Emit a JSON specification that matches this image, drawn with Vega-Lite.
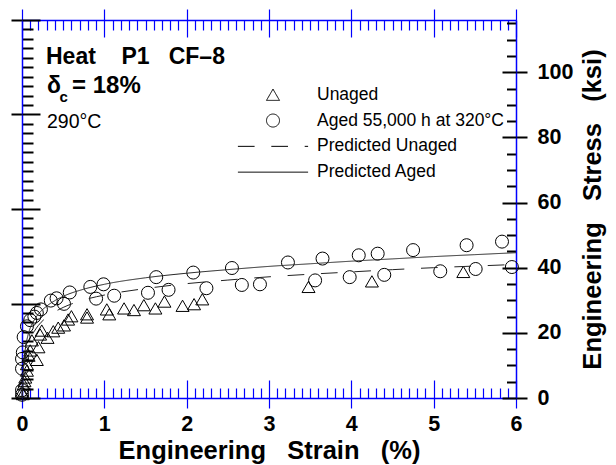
{
  "$schema": "https://vega.github.io/schema/vega-lite/v6.json",
  "width": 494,
  "height": 378,
  "autosize": "none",
  "padding": {"left": 22, "top": 20, "right": 100, "bottom": 67},
  "background": "white",
  "config": {
    "view": {"stroke": null},
    "axis": {"grid": false, "labelFont": "Liberation Sans", "titleFont": "Liberation Sans", "labelColor": "black", "titleColor": "black"},
    "text": {"font": "Liberation Sans", "color": "black"}
  },
  "resolve": {"axis": {"x": "independent", "y": "independent"}},
  "layer": [
    {
      "data": {"values": [
        {"strain": 0.0, "stress": 2.0, "series": "Unaged"},
        {"strain": 0.01, "stress": 1.2, "series": "Unaged"},
        {"strain": 0.02, "stress": 4.2, "series": "Unaged"},
        {"strain": 0.03, "stress": 5.2, "series": "Unaged"},
        {"strain": 0.04, "stress": 6.3, "series": "Unaged"},
        {"strain": 0.06, "stress": 8.4, "series": "Unaged"},
        {"strain": 0.06, "stress": 10.4, "series": "Unaged"},
        {"strain": 0.08, "stress": 13.0, "series": "Unaged"},
        {"strain": 0.10, "stress": 14.6, "series": "Unaged"},
        {"strain": 0.12, "stress": 17.7, "series": "Unaged"},
        {"strain": 0.18, "stress": 11.7, "series": "Unaged"},
        {"strain": 0.20, "stress": 15.6, "series": "Unaged"},
        {"strain": 0.22, "stress": 19.5, "series": "Unaged"},
        {"strain": 0.24, "stress": 20.7, "series": "Unaged"},
        {"strain": 0.31, "stress": 18.5, "series": "Unaged"},
        {"strain": 0.38, "stress": 20.5, "series": "Unaged"},
        {"strain": 0.44, "stress": 21.6, "series": "Unaged"},
        {"strain": 0.51, "stress": 22.3, "series": "Unaged"},
        {"strain": 0.56, "stress": 24.1, "series": "Unaged"},
        {"strain": 0.60, "stress": 25.1, "series": "Unaged"},
        {"strain": 0.79, "stress": 24.7, "series": "Unaged"},
        {"strain": 0.79, "stress": 25.7, "series": "Unaged"},
        {"strain": 1.03, "stress": 27.2, "series": "Unaged"},
        {"strain": 1.06, "stress": 25.7, "series": "Unaged"},
        {"strain": 1.24, "stress": 27.5, "series": "Unaged"},
        {"strain": 1.36, "stress": 27.0, "series": "Unaged"},
        {"strain": 1.48, "stress": 28.5, "series": "Unaged"},
        {"strain": 1.62, "stress": 27.5, "series": "Unaged"},
        {"strain": 1.73, "stress": 29.6, "series": "Unaged"},
        {"strain": 1.95, "stress": 28.3, "series": "Unaged"},
        {"strain": 2.09, "stress": 28.8, "series": "Unaged"},
        {"strain": 2.19, "stress": 30.3, "series": "Unaged"},
        {"strain": 3.48, "stress": 34.1, "series": "Unaged"},
        {"strain": 4.25, "stress": 35.8, "series": "Unaged"},
        {"strain": 5.36, "stress": 38.7, "series": "Unaged"},
        {"strain": 0.0, "stress": 1.0, "series": "Aged 55,000 h at 320°C"},
        {"strain": 0.0, "stress": 2.4, "series": "Aged 55,000 h at 320°C"},
        {"strain": 0.0, "stress": 9.0, "series": "Aged 55,000 h at 320°C"},
        {"strain": 0.0, "stress": 12.0, "series": "Aged 55,000 h at 320°C"},
        {"strain": 0.01, "stress": 14.0, "series": "Aged 55,000 h at 320°C"},
        {"strain": 0.02, "stress": 18.7, "series": "Aged 55,000 h at 320°C"},
        {"strain": 0.06, "stress": 22.0, "series": "Aged 55,000 h at 320°C"},
        {"strain": 0.10, "stress": 23.9, "series": "Aged 55,000 h at 320°C"},
        {"strain": 0.15, "stress": 25.0, "series": "Aged 55,000 h at 320°C"},
        {"strain": 0.18, "stress": 26.1, "series": "Aged 55,000 h at 320°C"},
        {"strain": 0.23, "stress": 27.2, "series": "Aged 55,000 h at 320°C"},
        {"strain": 0.35, "stress": 29.9, "series": "Aged 55,000 h at 320°C"},
        {"strain": 0.42, "stress": 30.6, "series": "Aged 55,000 h at 320°C"},
        {"strain": 0.51, "stress": 28.9, "series": "Aged 55,000 h at 320°C"},
        {"strain": 0.58, "stress": 32.4, "series": "Aged 55,000 h at 320°C"},
        {"strain": 0.83, "stress": 34.1, "series": "Aged 55,000 h at 320°C"},
        {"strain": 0.90, "stress": 30.5, "series": "Aged 55,000 h at 320°C"},
        {"strain": 0.99, "stress": 34.9, "series": "Aged 55,000 h at 320°C"},
        {"strain": 1.12, "stress": 31.4, "series": "Aged 55,000 h at 320°C"},
        {"strain": 1.53, "stress": 32.3, "series": "Aged 55,000 h at 320°C"},
        {"strain": 1.63, "stress": 37.1, "series": "Aged 55,000 h at 320°C"},
        {"strain": 1.78, "stress": 33.2, "series": "Aged 55,000 h at 320°C"},
        {"strain": 2.08, "stress": 38.5, "series": "Aged 55,000 h at 320°C"},
        {"strain": 2.24, "stress": 33.7, "series": "Aged 55,000 h at 320°C"},
        {"strain": 2.55, "stress": 39.9, "series": "Aged 55,000 h at 320°C"},
        {"strain": 2.67, "stress": 34.7, "series": "Aged 55,000 h at 320°C"},
        {"strain": 2.89, "stress": 34.9, "series": "Aged 55,000 h at 320°C"},
        {"strain": 3.23, "stress": 41.6, "series": "Aged 55,000 h at 320°C"},
        {"strain": 3.56, "stress": 36.1, "series": "Aged 55,000 h at 320°C"},
        {"strain": 3.65, "stress": 42.8, "series": "Aged 55,000 h at 320°C"},
        {"strain": 3.98, "stress": 37.1, "series": "Aged 55,000 h at 320°C"},
        {"strain": 4.09, "stress": 43.8, "series": "Aged 55,000 h at 320°C"},
        {"strain": 4.32, "stress": 44.3, "series": "Aged 55,000 h at 320°C"},
        {"strain": 4.40, "stress": 37.8, "series": "Aged 55,000 h at 320°C"},
        {"strain": 4.75, "stress": 45.4, "series": "Aged 55,000 h at 320°C"},
        {"strain": 5.08, "stress": 38.9, "series": "Aged 55,000 h at 320°C"},
        {"strain": 5.40, "stress": 46.9, "series": "Aged 55,000 h at 320°C"},
        {"strain": 5.51, "stress": 39.6, "series": "Aged 55,000 h at 320°C"},
        {"strain": 5.83, "stress": 48.0, "series": "Aged 55,000 h at 320°C"},
        {"strain": 5.95, "stress": 40.2, "series": "Aged 55,000 h at 320°C"}
      ]},
      "mark": {"type": "point", "filled": false, "size": 169, "stroke": "black", "strokeWidth": 1, "opacity": 1},
      "encoding": {
        "x": {
          "field": "strain", "type": "quantitative",
          "scale": {"domain": [0, 6], "nice": false, "zero": false},
          "axis": {
            "orient": "bottom",
            "values": [0,0.1,0.2,0.3,0.4,0.5,0.6,0.7,0.8,0.9,1,1.1,1.2,1.3,1.4,1.5,1.6,1.7,1.8,1.9,2,2.1,2.2,2.3,2.4,2.5,2.6,2.7,2.8,2.9,3,3.1,3.2,3.3,3.4,3.5,3.6,3.7,3.8,3.9,4,4.1,4.2,4.3,4.4,4.5,4.6,4.7,4.8,4.9,5,5.1,5.2,5.3,5.4,5.5,5.6,5.7,5.8,5.9,6],
            "domainColor": "#0000ff", "domainWidth": 1.5,
            "tickColor": "#0000ff", "tickWidth": 1.2,
            "tickSize": {"condition": {"test": "abs(datum.value-round(datum.value))<0.001", "value": 10}, "value": -10},
            "labelExpr": "abs(datum.value-round(datum.value))<0.001 ? ''+round(datum.value) : ''",
            "labelFontSize": 21.5, "labelFontWeight": "bold", "labelPadding": 5,
            "labelFlush": false, "labelOverlap": false, "labelBound": false,
            "title": "Engineering\u00a0\u00a0\u00a0Strain\u00a0\u00a0\u00a0(%)",
            "titleFontSize": 25.5, "titleFontWeight": "bold", "titlePadding": 4
          }
        },
        "y": {
          "field": "stress", "type": "quantitative",
          "scale": {"domain": [0, 116.0302], "nice": false, "zero": false},
          "axis": {
            "orient": "right",
            "values": [0,5,10,15,20,25,30,35,40,45,50,55,60,65,70,75,80,85,90,95,100,105,110,115],
            "domainColor": "#0000ff", "domainWidth": 1.5,
            "tickColor": "black", "tickWidth": 2,
            "tickSize": {"condition": {"test": "datum.value % 20 === 0", "value": 11}, "value": -9.5},
            "labelExpr": "datum.value % 20 === 0 ? ''+datum.value : ''",
            "labelFontSize": 21.5, "labelFontWeight": "bold", "labelPadding": 10,
            "labelFlush": false, "labelOverlap": false, "labelBound": false, "labelAlign": "left", "labelBaseline": "middle",
            "title": "Engineering\u00a0\u00a0\u00a0Stress\u00a0\u00a0\u00a0(ksi)",
            "titleFontSize": 25.5, "titleFontWeight": "bold", "titlePadding": 8, "titleAngle": 270, "titleBaseline": "top"
          }
        },
        "shape": {
          "field": "series", "type": "nominal",
          "scale": {
            "domain": ["Unaged", "Aged 55,000 h at 320°C", "Predicted Unaged", "Predicted Aged"],
            "range": ["triangle-up", "circle", "M-5.4,0H5.4", "M-5.4,0H5.4"]
          },
          "legend": {
            "orient": "none", "legendX": 242.25, "legendY": 66, "title": null, "padding": 0,
            "symbolSize": 169, "symbolStrokeColor": "black", "symbolStrokeWidth": 1, "symbolFillColor": "transparent",
            "labelFont": "Liberation Sans", "labelFontSize": 17.5, "labelColor": "black", "labelOffset": 35.25, "labelLimit": 400,
            "rowPadding": 6.8
          }
        }
      }
    },
    {
      "data": {"values": [
        {"strain": 0, "stress": 0, "series": "Predicted Unaged"},
        {"strain": 0.01, "stress": 4, "series": "Predicted Unaged"},
        {"strain": 0.02, "stress": 8, "series": "Predicted Unaged"},
        {"strain": 0.04, "stress": 12, "series": "Predicted Unaged"},
        {"strain": 0.07, "stress": 15.5, "series": "Predicted Unaged"},
        {"strain": 0.1, "stress": 18, "series": "Predicted Unaged"},
        {"strain": 0.15, "stress": 20.5, "series": "Predicted Unaged"},
        {"strain": 0.2, "stress": 22.3, "series": "Predicted Unaged"},
        {"strain": 0.3, "stress": 24.8, "series": "Predicted Unaged"},
        {"strain": 0.4, "stress": 26.5, "series": "Predicted Unaged"},
        {"strain": 0.5, "stress": 27.8, "series": "Predicted Unaged"},
        {"strain": 0.75, "stress": 30.1, "series": "Predicted Unaged"},
        {"strain": 1, "stress": 31.6, "series": "Predicted Unaged"},
        {"strain": 1.5, "stress": 33.6, "series": "Predicted Unaged"},
        {"strain": 2, "stress": 35.1, "series": "Predicted Unaged"},
        {"strain": 2.5, "stress": 36.2, "series": "Predicted Unaged"},
        {"strain": 3, "stress": 37.2, "series": "Predicted Unaged"},
        {"strain": 3.5, "stress": 38, "series": "Predicted Unaged"},
        {"strain": 4, "stress": 38.7, "series": "Predicted Unaged"},
        {"strain": 4.5, "stress": 39.4, "series": "Predicted Unaged"},
        {"strain": 5, "stress": 40, "series": "Predicted Unaged"},
        {"strain": 5.5, "stress": 40.5, "series": "Predicted Unaged"},
        {"strain": 6, "stress": 41, "series": "Predicted Unaged"},
        {"strain": 0, "stress": 0, "series": "Predicted Aged"},
        {"strain": 0.01, "stress": 5, "series": "Predicted Aged"},
        {"strain": 0.02, "stress": 10, "series": "Predicted Aged"},
        {"strain": 0.04, "stress": 15, "series": "Predicted Aged"},
        {"strain": 0.07, "stress": 19, "series": "Predicted Aged"},
        {"strain": 0.1, "stress": 21.5, "series": "Predicted Aged"},
        {"strain": 0.15, "stress": 24, "series": "Predicted Aged"},
        {"strain": 0.2, "stress": 25.8, "series": "Predicted Aged"},
        {"strain": 0.3, "stress": 28.2, "series": "Predicted Aged"},
        {"strain": 0.4, "stress": 29.9, "series": "Predicted Aged"},
        {"strain": 0.5, "stress": 31.2, "series": "Predicted Aged"},
        {"strain": 0.75, "stress": 33.4, "series": "Predicted Aged"},
        {"strain": 1, "stress": 34.9, "series": "Predicted Aged"},
        {"strain": 1.5, "stress": 36.9, "series": "Predicted Aged"},
        {"strain": 2, "stress": 38.3, "series": "Predicted Aged"},
        {"strain": 2.5, "stress": 39.4, "series": "Predicted Aged"},
        {"strain": 3, "stress": 40.4, "series": "Predicted Aged"},
        {"strain": 3.5, "stress": 41.2, "series": "Predicted Aged"},
        {"strain": 4, "stress": 42, "series": "Predicted Aged"},
        {"strain": 4.5, "stress": 42.7, "series": "Predicted Aged"},
        {"strain": 5, "stress": 43.4, "series": "Predicted Aged"},
        {"strain": 5.5, "stress": 44, "series": "Predicted Aged"},
        {"strain": 6, "stress": 44.6, "series": "Predicted Aged"}
      ]},
      "mark": {"type": "line", "color": "#222222", "strokeWidth": 1, "interpolate": "monotone"},
      "encoding": {
        "x": {
          "field": "strain", "type": "quantitative",
          "scale": {"domain": [0, 6], "nice": false, "zero": false},
          "axis": {
            "orient": "top",
            "values": [0,0.1,0.2,0.3,0.4,0.5,0.6,0.7,0.8,0.9,1,1.1,1.2,1.3,1.4,1.5,1.6,1.7,1.8,1.9,2,2.1,2.2,2.3,2.4,2.5,2.6,2.7,2.8,2.9,3,3.1,3.2,3.3,3.4,3.5,3.6,3.7,3.8,3.9,4,4.1,4.2,4.3,4.4,4.5,4.6,4.7,4.8,4.9,5,5.1,5.2,5.3,5.4,5.5,5.6,5.7,5.8,5.9,6],
            "domainColor": "#0000ff", "domainWidth": 1.5,
            "tickColor": "#0000ff", "tickWidth": 1.2,
            "tickSize": {"condition": {"test": "abs(datum.value-round(datum.value))<0.001", "value": 11}, "value": -10},
            "labels": false, "title": null
          }
        },
        "y": {
          "field": "stress", "type": "quantitative",
          "scale": {"domain": [0, 116.0302], "nice": false, "zero": false},
          "axis": {
            "orient": "left",
            "values": [0,2.9008,5.8015,8.7023,11.603,14.5038,17.4045,20.3053,23.206,26.1068,29.0075,31.9083,34.8091,37.7098,40.6106,43.5113,46.4121,49.3128,52.2136,55.1143,58.0151,60.9159,63.8166,66.7174,69.6181,72.5189,75.4196,78.3204,81.2211,84.1219,87.0227,89.9234,92.8242,95.7249,98.6257,101.5264,104.4272,107.3279,110.2287,113.1294,116.0302],
            "domainColor": "#0000ff", "domainWidth": 1.5,
            "tickColor": "black", "tickWidth": 2,
            "tickSize": {"condition": {"test": "abs(datum.value*6.894757/200-round(datum.value*6.894757/200))<0.01", "value": 11}, "value": -11},
            "labels": false, "title": null
          }
        },
        "strokeDash": {
          "field": "series", "type": "nominal",
          "scale": {
            "domain": ["Unaged", "Aged 55,000 h at 320°C", "Predicted Unaged", "Predicted Aged"],
            "range": [[1, 0], [1, 0], [16.7, 16.7], [1, 0]]
          },
          "legend": {
            "orient": "none", "legendX": 242.25, "legendY": 66, "title": null, "padding": 0,
            "symbolSize": 169, "symbolStrokeColor": "black", "symbolStrokeWidth": 1, "symbolFillColor": "transparent",
            "labelFont": "Liberation Sans", "labelFontSize": 17.5, "labelColor": "black", "labelOffset": 35.25, "labelLimit": 400,
            "rowPadding": 6.8
          }
        }
      }
    },
    {
      "data": {"values": [{"label": "Heat\u00a0\u00a0\u00a0\u00a0P1\u00a0\u00a0\u00a0CF–8"}]},
      "mark": {"type": "text", "fontSize": 23, "fontWeight": "bold", "align": "left", "baseline": "alphabetic"},
      "encoding": {
        "text": {"field": "label"},
        "x": {
          "datum": 0.2915, "type": "quantitative",
          "axis": {"orient": "bottom", "values": [0, 1, 2, 3, 4, 5, 6], "domain": false, "labels": false, "title": null, "tickColor": "#0000ff", "tickWidth": 1.2, "tickSize": -18}
        },
        "y": {
          "datum": 102.4, "type": "quantitative",
          "axis": {"orient": "left", "values": [0, 29.0075, 58.0151, 87.0227, 116.0302], "domain": false, "labels": false, "title": null, "tickColor": "black", "tickWidth": 2, "tickSize": -18}
        }
      }
    },
    {
      "data": {"values": [{"label": "δ"}]},
      "mark": {"type": "text", "fontSize": 23, "fontWeight": "bold", "align": "left", "baseline": "alphabetic"},
      "encoding": {
        "text": {"field": "label"},
        "x": {
          "datum": 0.3037, "type": "quantitative",
          "axis": {"orient": "top", "values": [0, 1, 2, 3, 4, 5, 6], "domain": false, "labels": false, "title": null, "tickColor": "#0000ff", "tickWidth": 1.2, "tickSize": -17}
        },
        "y": {
          "datum": 93.7, "type": "quantitative",
          "axis": {"orient": "right", "values": [0, 20, 40, 60, 80, 100], "domain": false, "labels": false, "title": null, "tickColor": "black", "tickWidth": 2, "tickSize": -14}
        }
      }
    },
    {
      "data": {"values": [{"label": "c"}]},
      "mark": {"type": "text", "fontSize": 15, "fontWeight": "bold", "align": "left", "baseline": "alphabetic"},
      "encoding": {
        "text": {"field": "label"},
        "x": {"datum": 0.4567, "type": "quantitative", "axis": null},
        "y": {"datum": 90.9, "type": "quantitative", "axis": null}
      }
    },
    {
      "data": {"values": [{"label": "=\u00a018%"}]},
      "mark": {"type": "text", "fontSize": 24, "fontWeight": "bold", "align": "left", "baseline": "alphabetic"},
      "encoding": {
        "text": {"field": "label"},
        "x": {"datum": 0.6073, "type": "quantitative", "axis": null},
        "y": {"datum": 93.7, "type": "quantitative", "axis": null}
      }
    },
    {
      "data": {"values": [{"label": "290°C"}]},
      "mark": {"type": "text", "fontSize": 19.5, "fontWeight": "normal", "align": "left", "baseline": "alphabetic"},
      "encoding": {
        "text": {"field": "label"},
        "x": {"datum": 0.3037, "type": "quantitative", "axis": null},
        "y": {"datum": 83.0, "type": "quantitative", "axis": null}
      }
    }
  ]
}
